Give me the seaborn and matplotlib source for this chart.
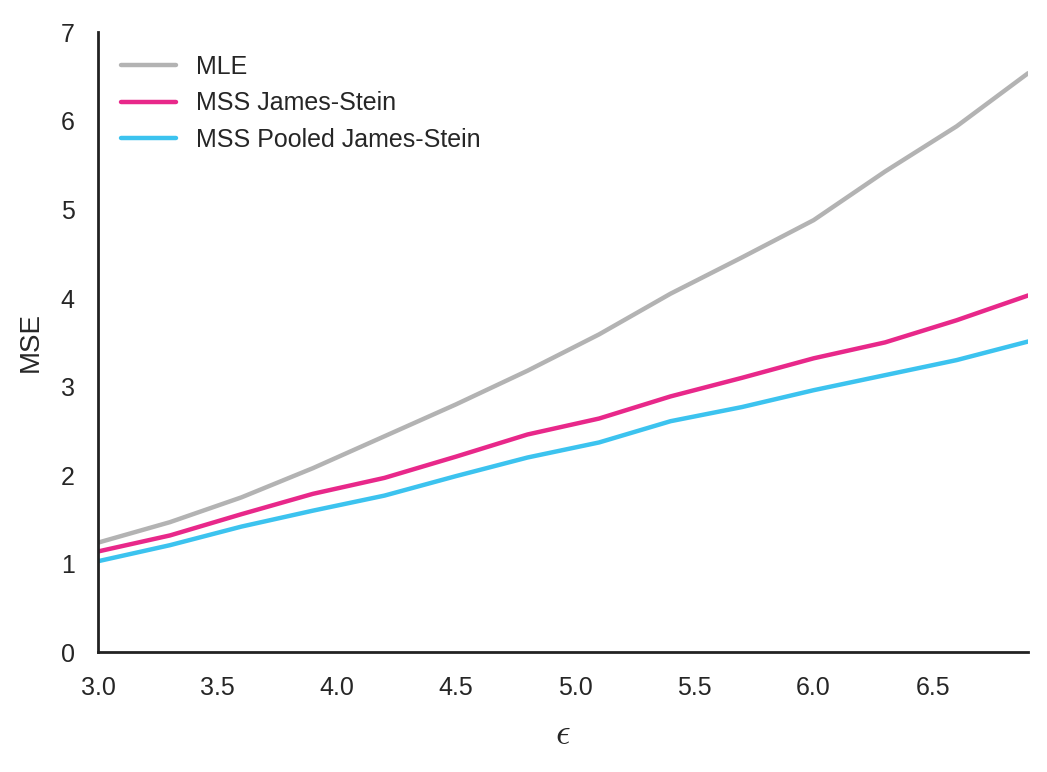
import numpy as np
import pandas as pd
import matplotlib
matplotlib.use("Agg")
import matplotlib.pyplot as plt
import seaborn as sns

eps = [3.0, 3.3, 3.6, 3.9, 4.2, 4.5, 4.8, 5.1, 5.4, 5.7, 6.0, 6.3, 6.6, 6.9]
mle = [1.24, 1.47, 1.75, 2.08, 2.44, 2.80, 3.18, 3.59, 4.05, 4.46, 4.88, 5.43, 5.94, 6.54]
mss_js = [1.14, 1.32, 1.56, 1.79, 1.97, 2.21, 2.46, 2.64, 2.89, 3.10, 3.32, 3.50, 3.75, 4.03]
mss_pooled = [1.03, 1.21, 1.42, 1.60, 1.77, 1.99, 2.20, 2.37, 2.61, 2.77, 2.96, 3.13, 3.30, 3.51]

series = {"MLE": mle, "MSS James-Stein": mss_js, "MSS Pooled James-Stein": mss_pooled}
df = pd.DataFrame([(e, name, v) for name, vals in series.items() for e, v in zip(eps, vals)],
                  columns=["eps", "method", "mse"])

sns.set_style("white")
plt.rcParams["font.family"] = ["Arial", "Liberation Sans", "DejaVu Sans"]
plt.rcParams["mathtext.fontset"] = "cm"

fig, ax = plt.subplots(figsize=(5.235, 3.86), dpi=200)
palette = {"MLE": "#b3b3b3", "MSS James-Stein": "#e8288a", "MSS Pooled James-Stein": "#3cc3ef"}
sns.lineplot(data=df, x="eps", y="mse", hue="method", palette=palette, linewidth=1.6, ax=ax)

ax.set_xlim(3.0, 6.9)
ax.set_ylim(0, 7)
ax.set_xticks([3.0, 3.5, 4.0, 4.5, 5.0, 5.5, 6.0, 6.5])
ax.set_yticks(range(0, 8))
ax.tick_params(labelsize=9, pad=5)
ax.set_xlabel(r"$\epsilon$", fontsize=13, labelpad=6)
ax.set_ylabel("MSE", fontsize=10, labelpad=6)
for s in ["left", "bottom"]:
    ax.spines[s].set_color("#222222")
    ax.spines[s].set_linewidth(1.0)
sns.despine(ax=ax)
ax.legend(title=None, frameon=False, fontsize=9, loc="upper left", handlelength=2.2)

fig.subplots_adjust(left=0.094, right=0.982, top=0.958, bottom=0.155)
fig.savefig("out.png", dpi=200)
